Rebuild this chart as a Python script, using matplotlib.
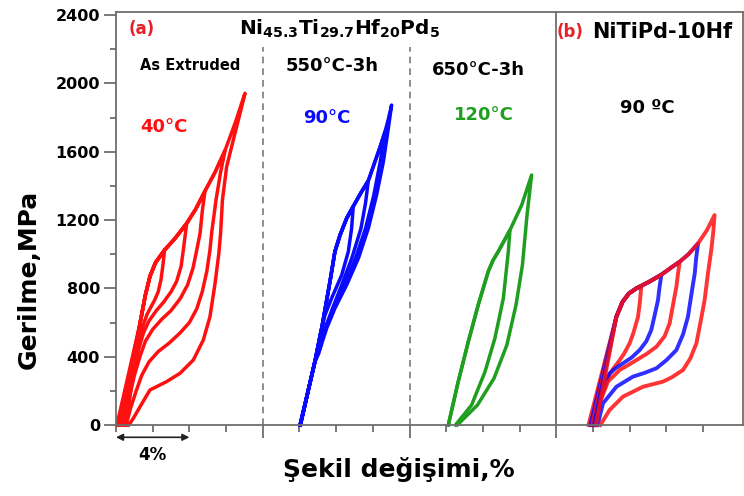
import matplotlib
matplotlib.use("Agg")
import matplotlib.pyplot as plt
from matplotlib.ticker import FixedLocator, NullFormatter

# ---------------- data (strain %, stress MPa) ----------------
# Panel (a) As extruded, 40°C  (red)
a_env_strain = [1.3, 1.6, 1.85, 2.15, 2.65, 3.2, 3.85, 4.35, 4.85, 5.4, 5.95, 6.5, 7.03]
a_env_stress = [590, 760, 870, 950, 1025, 1090, 1180, 1265, 1370, 1480, 1610, 1770, 1942]
a_start_strain = [0.05, 0.15, 0.3, 0.4, 0.55]
a_peak_index = [4, 6, 8, 10, 12]
a_unload_strain = [
    [2.65, 2.55, 2.45, 2.3, 2.1, 1.9, 1.7, 1.5, 1.3, 1.0, 0.6, 0.15],
    [3.85, 3.7, 3.55, 3.3, 3.0, 2.6, 2.2, 1.8, 1.5, 1.25, 1.0, 0.6, 0.3],
    [4.85, 4.7, 4.58, 4.4, 4.2, 3.9, 3.5, 3.0, 2.5, 2.0, 1.6, 1.3, 1.0, 0.7, 0.4],
    [5.95, 5.7, 5.45, 5.21, 5.12, 4.95, 4.7, 4.4, 4.0, 3.5, 2.9, 2.3, 1.8, 1.4, 1.1, 0.8, 0.55],
    [7.03, 6.7, 6.39, 6.03, 5.8, 5.7, 5.6, 5.4, 5.12, 4.76, 4.21, 3.49, 2.76, 1.85, 1.31, 0.95, 0.7],
]
a_unload_stress = [
    [1025, 930, 850, 780, 730, 690, 650, 590, 500, 350, 170, 0],
    [1180, 1050, 930, 840, 780, 720, 670, 610, 540, 450, 330, 150, 0],
    [1370, 1250, 1122, 1024, 920, 820, 740, 670, 620, 560, 490, 400, 290, 150, 0],
    [1610, 1480, 1317, 1122, 1024, 900, 780, 680, 600, 540, 480, 430, 370, 290, 200, 100, 0],
    [1942, 1800, 1668, 1512, 1317, 1122, 1000, 830, 634, 498, 380, 303, 254, 205, 107, 40, 0],
]

# 550°C-3h, 90°C (blue)
b_load_strain = [10.03, 10.45, 10.84, 11.21, 11.66, 11.93, 12.21, 12.57, 12.93, 13.35, 13.75, 14.11, 14.4, 14.66, 14.84, 15.02]
b_load_stress = [0, 190, 371, 566, 839, 1015, 1112, 1210, 1280, 1360, 1430, 1541, 1630, 1717, 1790, 1873]
b_peak_index = [8, 10, 13, 15]
b_unload_strain = [
    [12.93, 12.84, 12.66, 12.30, 11.75, 11.39, 11.15, 10.84, 10.45, 10.05],
    [13.75, 13.6, 13.35, 12.85, 12.3, 11.8, 11.4, 11.1, 10.84, 10.45, 10.05],
    [14.66, 14.4, 14.05, 13.6, 13.05, 12.45, 11.85, 11.4, 11.05, 10.84, 10.45, 10.05],
    [15.02, 14.84, 14.57, 14.2, 13.75, 13.21, 12.57, 11.93, 11.48, 11.1, 10.84, 10.45, 10.05],
]
b_unload_stress = [
    [1280, 1151, 1015, 878, 742, 644, 540, 371, 190, 0],
    [1430, 1300, 1151, 976, 820, 683, 566, 460, 371, 190, 0],
    [1717, 1541, 1346, 1151, 976, 820, 683, 566, 420, 371, 190, 0],
    [1873, 1737, 1541, 1346, 1151, 976, 820, 683, 566, 440, 371, 190, 0],
]

# 650°C-3h, 120°C (green)
g_load_strain = [18.11, 18.65, 19.2, 19.74, 20.29, 20.55, 20.83, 21.47, 22.11, 22.65]
g_load_stress = [0, 254, 488, 703, 900, 965, 1015, 1141, 1288, 1464]
g_peak_index = [7, 9]
g_unload_strain = [
    [21.47, 21.38, 21.11, 20.65, 20.11, 19.38, 18.5],
    [22.65, 22.4, 22.15, 21.8, 21.3, 20.6, 19.7, 18.6],
]
g_unload_stress = [
    [1141, 1015, 742, 508, 312, 117, 0],
    [1464, 1229, 937, 703, 468, 273, 117, 0],
]

# Panel (b) NiTiPd-10Hf, 90 ºC (red / blue alternating)
p_env_strain = [27.27, 27.6, 27.95, 28.36, 28.63, 29.08, 29.72, 30.3, 30.72, 31.2, 31.72, 32.2, 32.62]
p_env_stress = [634, 720, 770, 800, 815, 840, 880, 925, 956, 1000, 1063, 1140, 1229]
p_start_strain = [25.75, 25.85, 25.95, 26.05, 26.15]
p_peak_index = [4, 6, 8, 10, 12]
p_colors = ["red", "blue", "red", "blue", "red"]
p_unload_strain = [
    [28.63, 28.55, 28.45, 28.2, 27.99, 27.7, 27.45, 27.1, 26.6, 26.2, 25.95],
    [29.72, 29.6, 29.54, 29.35, 29.17, 28.9, 28.54, 28.1, 27.63, 27.2, 26.9, 26.5, 26.05],
    [30.72, 30.62, 30.54, 30.35, 30.17, 29.9, 29.45, 28.9, 28.36, 27.9, 27.45, 26.81, 26.4, 26.15],
    [31.72, 31.62, 31.54, 31.35, 31.17, 30.9, 30.54, 30.0, 29.45, 28.8, 28.17, 27.27, 26.54, 26.25],
    [32.62, 32.55, 32.44, 32.25, 32.08, 31.85, 31.63, 31.3, 30.9, 30.3, 29.81, 28.72, 27.63, 26.9, 26.4],
]
p_unload_stress = [
    [815, 720, 634, 540, 478, 420, 380, 330, 250, 100, 0],
    [880, 790, 732, 640, 556, 490, 439, 395, 361, 330, 302, 180, 0],
    [956, 880, 810, 700, 595, 520, 458, 415, 380, 350, 322, 254, 140, 0],
    [1063, 980, 888, 760, 634, 530, 439, 380, 332, 305, 283, 224, 127, 0],
    [1229, 1130, 1024, 880, 732, 600, 478, 390, 322, 280, 254, 224, 166, 88, 0],
]

y_ticks = [0, 400, 800, 1200, 1600, 2000, 2400]

# ---------------- figure ----------------
W, H = 744, 496
fig = plt.figure(figsize=(W / 100, H / 100), dpi=100)
ax = fig.add_axes([116 / W, (H - 425) / H, (743 - 116) / W, (425 - 12) / H])
ax.set_xlim(0, 34.17)
ax.set_ylim(0, 2418)

RED = "#ff1010"
BLUE = "#0a0aff"
GREEN = "#1f9e1f"
SPINE = "#6e6e6e"

def P(x, y):
    return x / W, 1 - y / H

# panel (a) red loops
for i in range(len(a_start_strain)):
    k = a_peak_index[i]
    xs = [a_start_strain[i]] + a_env_strain[:k + 1] + a_unload_strain[i][1:]
    ys = [0] + a_env_stress[:k + 1] + a_unload_stress[i][1:]
    ax.plot(xs, ys, color=RED, lw=2.5, clip_on=False, solid_joinstyle="round")

# blue loops
for i in range(len(b_peak_index)):
    k = b_peak_index[i]
    xs = b_load_strain[:k + 1] + b_unload_strain[i][1:]
    ys = b_load_stress[:k + 1] + b_unload_stress[i][1:]
    ax.plot(xs, ys, color=BLUE, lw=2.5, clip_on=False, solid_joinstyle="round")

# green loops
for i in range(len(g_peak_index)):
    k = g_peak_index[i]
    xs = g_load_strain[:k + 1] + g_unload_strain[i][1:]
    ys = g_load_stress[:k + 1] + g_unload_stress[i][1:]
    ax.plot(xs, ys, color=GREEN, lw=2.5, clip_on=False, solid_joinstyle="round")

# panel (b)
cmap = {"red": RED, "blue": BLUE}
for i in range(len(p_start_strain)):
    k = p_peak_index[i]
    xs = [p_start_strain[i]] + p_env_strain[:k + 1] + p_unload_strain[i][1:]
    ys = [0] + p_env_stress[:k + 1] + p_unload_stress[i][1:]
    ax.plot(xs, ys, color=cmap[p_colors[i]], lw=2.8, alpha=0.85, clip_on=False,
            solid_joinstyle="round")

# separators
ax.vlines([8, 16], 0, 2213, colors="#7a7a7a", linestyles=(0, (4, 3)), lw=1.2)
ax.axvline(24, color=SPINE, lw=1.3)

# axes styling
for s in ax.spines.values():
    s.set_color(SPINE)
    s.set_linewidth(1.3)
ax.yaxis.set_major_locator(FixedLocator(y_ticks))
ax.yaxis.set_minor_locator(FixedLocator([200, 600, 1000, 1400, 1800, 2200]))
ax.xaxis.set_major_locator(FixedLocator([8, 16, 24]))
ax.xaxis.set_minor_locator(FixedLocator([0, 2, 4, 6, 10, 12, 14, 18, 20, 22, 26, 28, 30, 32]))
ax.xaxis.set_major_formatter(NullFormatter())
ax.tick_params(axis="y", which="major", direction="out", length=8.5, width=1.3,
               color=SPINE, labelsize=11.5, pad=3, right=False)
ax.tick_params(axis="y", which="minor", direction="out", length=4, width=1.3, color=SPINE)
ax.tick_params(axis="x", which="major", direction="out", length=9.5, width=1.3, color=SPINE)
ax.tick_params(axis="x", which="minor", direction="out", length=5, width=1.3, color=SPINE)
for lab in ax.get_yticklabels():
    lab.set_fontweight("bold")

# 4% arrow
ax.annotate("", xy=(0, -72), xytext=(4, -72),
            arrowprops=dict(arrowstyle="<|-|>", color="#222222", lw=1.2,
                            mutation_scale=10, shrinkA=0, shrinkB=0),
            annotation_clip=False)
fig.text(*P(152, 455), "4%", ha="center", va="center", fontsize=12, fontweight="bold")

# labels
fig.text(*P(29, 279), "Gerilme,MPa", rotation=90, ha="center", va="center",
         fontsize=18, fontweight="bold")
fig.text(*P(399, 470), "Şekil değişimi,%", ha="center", va="center",
         fontsize=18, fontweight="bold")

# annotations
fig.text(*P(142, 29), "(a)", ha="center", va="center", fontsize=12, fontweight="bold", color="#e8202a")
fig.text(*P(340, 29), r"Ni$_{\mathbf{45.3}}$Ti$_{\mathbf{29.7}}$Hf$_{\mathbf{20}}$Pd$_{\mathbf{5}}$",
         ha="center", va="center", fontsize=14.5, fontweight="bold")
fig.text(*P(190, 66), "As Extruded", ha="center", va="center", fontsize=10.5, fontweight="bold")
fig.text(*P(332, 66), "550°C-3h", ha="center", va="center", fontsize=13, fontweight="bold")
fig.text(*P(478, 70), "650°C-3h", ha="center", va="center", fontsize=13, fontweight="bold")
fig.text(*P(164, 127), "40°C", ha="center", va="center", fontsize=13, fontweight="bold", color=RED)
fig.text(*P(327, 118), "90°C", ha="center", va="center", fontsize=13, fontweight="bold", color=BLUE)
fig.text(*P(484, 115), "120°C", ha="center", va="center", fontsize=13, fontweight="bold", color=GREEN)
fig.text(*P(570, 32), "(b)", ha="center", va="center", fontsize=12, fontweight="bold", color="#e8202a")
fig.text(*P(662, 32), "NiTiPd-10Hf", ha="center", va="center", fontsize=15, fontweight="bold")
fig.text(*P(647, 108), "90 ºC", ha="center", va="center", fontsize=13, fontweight="bold")

fig.savefig("out.png", dpi=100)
